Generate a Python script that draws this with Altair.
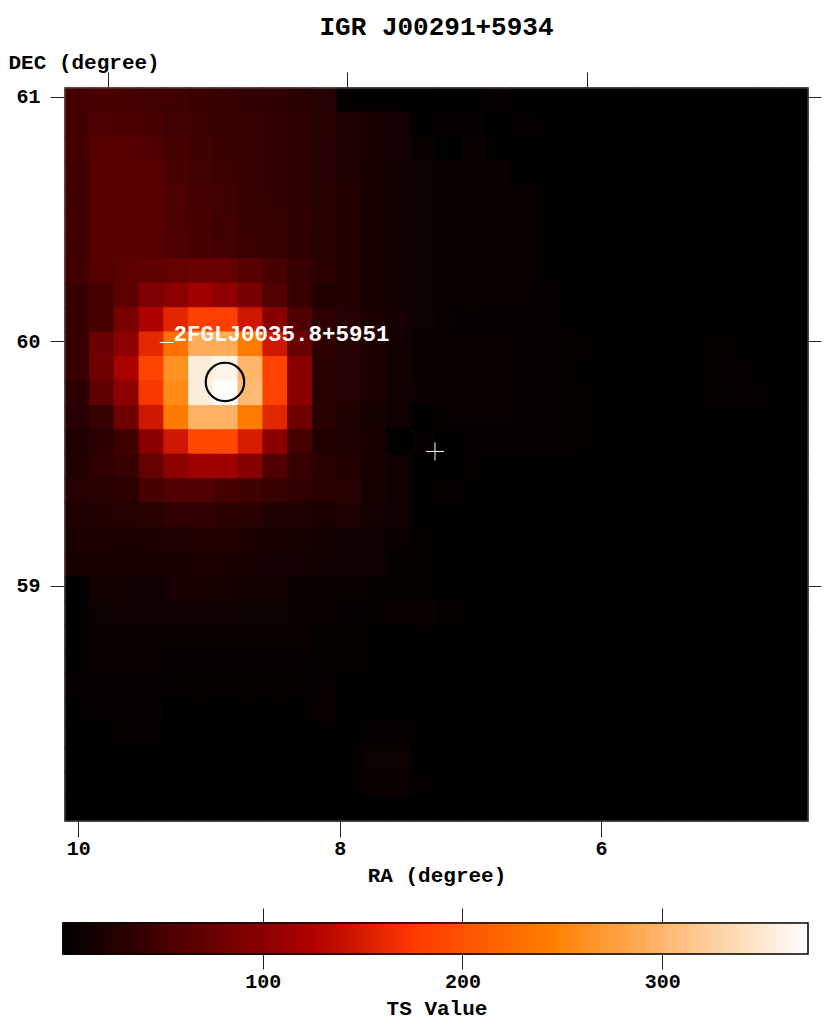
import altair as alt
import pandas as pd

TITLE = "IGR J00291+5934"
FONT = "Liberation Mono"

RA_LEFT, RA_RIGHT = 10.102, 4.417
DEC_TOP, DEC_BOTTOM = 61.036, 58.039

ts_rows = [
    [48,52,50,47,44,41,38,36,33,30,26,2,2,2,2,1,1,4,1,1,1,1,1,1,1,1,1,1,1,1],
    [48,55,53,50,46,43,40,38,34,32,28,22,18,14,2,5,5,1,4,1,1,1,1,1,1,1,1,1,1,1],
    [48,60,60,57,50,45,40,38,35,32,27,22,18,14,7,1,6,1,1,1,1,1,1,1,1,1,1,1,1,1],
    [46,60,62,62,52,47,43,38,35,32,27,23,18,13,9,7,7,7,1,1,1,1,1,1,1,1,1,1,1,1],
    [46,60,62,62,54,48,44,40,36,32,28,24,18,13,9,8,8,7,6,1,1,1,1,1,1,1,1,1,1,1],
    [46,60,62,62,55,50,46,40,37,33,29,24,18,13,9,8,8,7,6,1,1,1,1,1,1,1,1,1,1,1],
    [46,60,62,62,56,52,47,42,38,33,28,24,18,13,9,8,8,7,6,1,1,1,1,1,1,1,1,1,1,1],
    [47,60,66,68,72,76,74,62,52,40,32,25,18,13,9,8,8,7,6,1,1,1,1,1,1,1,1,1,1,1],
    [40,50,65,90,100,115,102,85,58,40,25,24,18,13,9,7,7,7,6,5,1,2,1,1,1,1,1,1,1,1],
    [40,50,85,125,158,180,180,145,97,57,33,26,20,14,9,5,5,5,4,3,2,2,1,1,1,1,1,1,1,1],
    [40,75,100,160,230,290,290,240,145,75,33,26,20,13,8,6,6,6,5,4,3,2,1,1,1,1,3,1,1,1],
    [40,78,120,185,262,355,362,298,183,98,30,26,20,13,8,6,6,6,5,4,3,1,1,1,1,1,5,3,1,1],
    [30,68,100,172,255,355,372,303,183,98,28,26,20,12,8,6,6,6,5,4,3,2,2,2,2,2,3,5,2,1],
    [27,40,80,145,240,295,295,240,158,80,30,22,16,10,1,6,6,6,5,4,3,2,2,2,2,2,2,2,2,2],
    [22,32,45,98,145,190,190,150,98,50,25,22,18,1,4,1,4,4,4,4,3,2,2,2,2,2,2,2,2,2],
    [24,34,40,70,100,112,112,95,57,38,30,25,18,10,1,1,3,1,2,2,2,1,1,1,1,1,1,1,1,1],
    [27,28,32,50,57,57,50,45,40,34,30,28,16,10,1,4,1,1,2,2,2,1,1,1,1,1,1,1,1,2],
    [22,24,26,28,34,34,32,28,22,22,20,22,14,9,1,1,1,1,1,1,1,1,1,1,1,1,1,1,1,1],
    [20,20,20,20,22,25,25,20,17,15,13,12,10,8,3,1,1,1,1,1,1,1,1,1,1,1,1,1,1,1],
    [18,18,18,18,18,20,20,17,14,14,12,12,10,3,3,1,1,1,1,1,1,1,1,1,1,1,1,1,1,1],
    [1,13,13,10,17,17,15,13,13,8,8,8,3,3,3,1,1,1,1,1,1,1,1,1,1,1,1,1,1,1],
    [1,9,10,10,11,11,10,9,9,8,7,4,3,7,7,3,1,1,1,1,1,1,1,1,1,1,1,1,1,1],
    [1,8,8,8,7,7,7,7,7,7,3,3,2,2,2,1,1,1,1,1,1,1,1,1,1,1,1,1,1,1],
    [1,7,7,7,5,5,5,4,4,4,3,3,2,2,2,1,1,1,1,1,1,1,1,1,1,1,1,1,1,1],
    [5,5,5,5,3,3,3,3,3,3,6,2,2,2,2,1,1,1,1,1,1,1,1,1,1,1,1,1,1,1],
    [1,5,5,5,1,2,2,2,2,2,6,2,2,2,1,1,1,1,1,1,1,1,1,1,1,1,1,1,1,1],
    [1,1,3,3,1,1,1,1,1,1,1,1,5,5,1,1,1,1,1,1,1,1,1,1,1,1,1,1,1,1],
    [1,1,1,1,1,1,1,1,1,1,1,2,9,9,1,1,1,1,1,1,1,1,1,1,1,1,1,1,1,1],
    [1,1,1,1,1,1,1,1,1,1,1,2,7,7,3,1,1,1,1,1,1,1,1,1,1,1,1,1,1,1],
    [1,1,1,1,1,1,1,1,1,1,1,1,1,1,1,1,1,1,1,1,1,1,1,1,1,1,1,1,1,1],
]

COLOR_STOPS = [0, 125, 177, 245, 373]
COLOR_RANGE = ["#000000", "#b00000", "#ff3c00", "#ff8000", "#ffffff"]
BAR_LEVELS = list(range(0, 373))

RA_TICKS = [10, 8, 6]
RA_TICKS_TOP = [9.772, 7.944, 6.107]
DEC_TICKS = [61, 60, 59]
TS_TICKS = [100, 200, 300]

SOURCE_NAME = "_2FGLJ0035.8+5951"
SOURCE_LABEL_RA, SOURCE_LABEL_DEC = 9.375, 60.0
SOURCE_RA, SOURCE_DEC = 8.878, 59.834
TARGET_RA, TARGET_DEC = 7.271, 59.55

n_rows, n_cols = len(ts_rows), len(ts_rows[0])
dra = (RA_LEFT - RA_RIGHT) / n_cols
ddec = (DEC_TOP - DEC_BOTTOM) / n_rows
cells = pd.DataFrame([
    {"ra": RA_LEFT - c * dra, "ra2": RA_LEFT - (c + 1) * dra,
     "dec": DEC_TOP - r * ddec, "dec2": DEC_TOP - (r + 1) * ddec,
     "ts": ts_rows[r][c]}
    for r in range(n_rows) for c in range(n_cols)
])

x_scale = alt.Scale(domain=[RA_LEFT, RA_RIGHT], nice=False, zero=False)
y_scale = alt.Scale(domain=[DEC_BOTTOM, DEC_TOP], nice=False, zero=False)
color_scale = alt.Scale(domain=COLOR_STOPS, range=COLOR_RANGE, interpolate="rgb")

axis_style = dict(
    labelFont=FONT, labelFontSize=20, labelColor="#000", labelFontWeight="bold",
    titleFont=FONT, titleFontSize=21, titleColor="#000", titleFontWeight="bold",
    grid=False, domain=False, tickColor="#222", tickWidth=1, labelAngle=0,
    labelOverlap=False, titleAngle=0,
)

heat = alt.Chart(cells).mark_rect(strokeWidth=1.5).encode(
    x=alt.X("ra:Q", scale=x_scale, axis=alt.Axis(
        orient="bottom", values=RA_TICKS, format="d", tickSize=16, labelPadding=1,
        title="RA (degree)", titleY=54, titleBaseline="middle", **axis_style)),
    x2="ra2:Q",
    y=alt.Y("dec:Q", scale=y_scale, axis=alt.Axis(
        orient="left", values=DEC_TICKS, format="d", tickSize=15, labelPadding=10,
        title="DEC (degree)", titleAlign="left", titleX=-57, titleY=-26,
        titleBaseline="middle", **axis_style)),
    y2="dec2:Q",
    color=alt.Color("ts:Q", scale=color_scale, legend=None),
    stroke=alt.Stroke("ts:Q", scale=color_scale, legend=None),
)

frame = alt.Chart(pd.DataFrame({
    "ra": [RA_LEFT], "ra2": [RA_RIGHT], "dec": [DEC_BOTTOM], "dec2": [DEC_TOP],
})).mark_rect(fillOpacity=0, stroke="#555", strokeWidth=1).encode(
    x=alt.X("ra:Q", scale=x_scale, axis=alt.Axis(
        orient="top", values=RA_TICKS_TOP, labels=False, tickSize=16, title=None,
        grid=False, domain=False, tickColor="#222")),
    x2="ra2:Q",
    y=alt.Y("dec:Q", scale=y_scale, axis=alt.Axis(
        orient="right", values=DEC_TICKS, labels=False, tickSize=13, title=None,
        grid=False, domain=False, tickColor="#222")),
    y2="dec2:Q",
)

label = alt.Chart(pd.DataFrame({
    "ra": [SOURCE_LABEL_RA], "dec": [SOURCE_LABEL_DEC], "t": [SOURCE_NAME],
})).mark_text(font=FONT, fontSize=22.5, fontWeight="bold", color="#fff",
              align="left", baseline="alphabetic").encode(
    x=alt.X("ra:Q", scale=x_scale, axis=None),
    y=alt.Y("dec:Q", scale=y_scale, axis=None),
    text="t:N",
)

circle = alt.Chart(pd.DataFrame({"ra": [SOURCE_RA], "dec": [SOURCE_DEC]})).mark_point(
    shape="circle", size=1480, filled=False, color="#000", strokeWidth=2.2, opacity=1,
).encode(
    x=alt.X("ra:Q", scale=x_scale, axis=None),
    y=alt.Y("dec:Q", scale=y_scale, axis=None),
)

plus = alt.Chart(pd.DataFrame({"ra": [TARGET_RA], "dec": [TARGET_DEC]})).mark_point(
    shape="M-1,0L1,0M0,-1L0,1", size=324, filled=False, color="#fff", strokeWidth=1, opacity=1,
).encode(
    x=alt.X("ra:Q", scale=x_scale, axis=None),
    y=alt.Y("dec:Q", scale=y_scale, axis=None),
)

main = alt.layer(heat, frame, label, circle, plus).resolve_axis(
    x="independent", y="independent"
).properties(
    width=743, height=733,
    title=alt.TitleParams(TITLE, font=FONT, fontSize=26, fontWeight="bold", color="#000",
                          anchor="middle", offset=11),
)

bar_scale = alt.Scale(domain=[1, 373], nice=False, zero=False)
bar_df = pd.DataFrame({"ts": BAR_LEVELS})
bar_df["ts2"] = bar_df["ts"] + 1
bar_df["lo"] = 0
bar_df["hi"] = 1
bar_y = alt.Scale(domain=[0, 1], nice=False)

bar = alt.Chart(bar_df).mark_rect(strokeWidth=1.5).encode(
    x=alt.X("ts:Q", scale=bar_scale, axis=alt.Axis(
        orient="bottom", values=TS_TICKS, format="d", tickSize=15, labelPadding=2,
        title="TS Value", titleY=54, titleBaseline="middle", **axis_style)),
    x2="ts2:Q",
    y=alt.Y("lo:Q", scale=bar_y, axis=None),
    y2="hi:Q",
    color=alt.Color("ts:Q", scale=color_scale, legend=None),
    stroke=alt.Stroke("ts:Q", scale=color_scale, legend=None),
)

bar_frame = alt.Chart(pd.DataFrame({"a": [BAR_LEVELS[0]], "b": [BAR_LEVELS[-1] + 1], "lo": [0], "hi": [1]})).mark_rect(
    fillOpacity=0, stroke="#000", strokeWidth=1.5,
).encode(
    x=alt.X("a:Q", scale=bar_scale, axis=alt.Axis(
        orient="top", values=TS_TICKS, labels=False, tickSize=15, title=None,
        grid=False, domain=False, tickColor="#222")),
    x2="b:Q",
    y=alt.Y("lo:Q", scale=bar_y, axis=None),
    y2="hi:Q",
)

colorbar = alt.layer(bar, bar_frame).resolve_axis(x="independent").properties(width=743, height=31)

chart = alt.vconcat(main, colorbar, spacing=102, bounds="flush").properties(
    padding={"top": 6, "left": 0, "right": 0, "bottom": 4}, background="#ffffff"
).configure_view(strokeWidth=0)

chart.save("out.html", embed_options={"renderer": "svg", "actions": False})
